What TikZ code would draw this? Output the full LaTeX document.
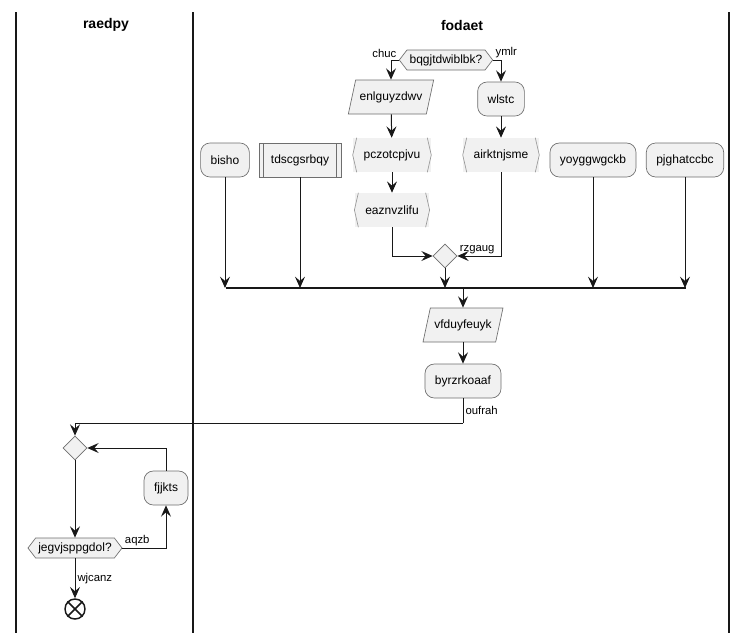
\documentclass[tikz,border=0pt]{standalone}
\usepackage{fontspec}
\setmainfont{Liberation Sans}
\usetikzlibrary{arrows.meta,shapes.geometric,shapes.symbols}

\definecolor{boxfill}{HTML}{F1F1F1}
\definecolor{boxline}{HTML}{6E6E6E}
\definecolor{arrowline}{HTML}{181818}

% brackets on both sides of a queue node
\newcommand{\sdlbrk}[1]{%
  \draw[brk] ([xshift=3pt]#1.north west) -- (#1.west) -- ([xshift=3pt]#1.south west);
  \draw[brk] ([xshift=-3pt]#1.north east) -- (#1.east) -- ([xshift=-3pt]#1.south east);}

\begin{document}
\begin{tikzpicture}[x=0.75pt,y=0.75pt,yscale=-1,xscale=1,
  font=\fontsize{9}{11}\selectfont,
  act/.style={draw=boxline, line width=0.5pt, fill=boxfill, rounded corners=7pt, minimum height=25.5pt, inner xsep=7.5pt},
  sub/.style={draw=boxline, line width=0.5pt, fill=boxfill, minimum height=25.5pt, inner xsep=9pt,
    path picture={\draw[boxline,line width=0.5pt] ([xshift=3.5pt]path picture bounding box.north west) -- ([xshift=3.5pt]path picture bounding box.south west);
      \draw[boxline,line width=0.5pt] ([xshift=-3.5pt]path picture bounding box.north east) -- ([xshift=-3.5pt]path picture bounding box.south east);}},
  io/.style={trapezium, trapezium left angle=70, trapezium right angle=110, trapezium stretches body, draw=boxline, line width=0.5pt, fill=boxfill, minimum height=25.5pt, inner xsep=3pt},
  queue/.style={fill=boxfill, minimum height=25.5pt, inner xsep=8pt},
  brk/.style={draw=boxline!70, line width=0.5pt},
  dec/.style={signal, signal to=west and east, signal pointer angle=105, draw=boxline, line width=0.5pt, fill=boxfill, minimum height=15pt, inner ysep=2pt, inner xsep=2pt},
  merge/.style={diamond, draw=boxline, line width=0.5pt, fill=boxfill, minimum size=18pt, inner sep=0pt},
  stopnode/.style={circle, draw=arrowline, line width=1.1pt, fill=white, minimum size=15pt, inner sep=0pt},
  flow/.style={draw=arrowline, line width=0.75pt, -{Stealth[length=8.5pt,width=7.5pt,inset=3.2pt]}},
  lbl/.style={font=\fontsize{8.5}{10}\selectfont, inner sep=1.5pt},
  hdr/.style={font=\fontsize{10.5}{13}\selectfont\bfseries}]

\useasboundingbox (0,0) rectangle (747,633);

% Lanes
\draw[line width=1pt, arrowline] (16,12) -- (16,633);
\draw[line width=1pt, arrowline] (193,12) -- (193,633);
\draw[line width=1pt, arrowline] (729,12) -- (729,633);
\node[hdr] (hdrA) at (106,25) {raedpy};
\node[hdr] (hdrB) at (462,25) {fodaet};

% Nodes
\node[dec] (q1) at (446,60) {bqgjtdwiblbk?};
\node[io] (enl) at (391,97) {enlguyzdwv};
\node[act] (wls) at (501,99) {wlstc};
\node[queue] (pcz) at (392,155) {pczotcpjvu};
\node[queue] (air) at (501,155) {airktnjsme};
\node[queue] (eaz) at (392,210) {eaznvzlifu};
\sdlbrk{pcz}
\sdlbrk{air}
\sdlbrk{eaz}
\node[merge] (m1) at (445,256) {};
\node[act] (bis) at (225,160) {bisho};
\node[sub] (tds) at (300,160) {tdscgsrbqy};
\node[act] (yoy) at (593,160) {yoyggwgckb};
\node[act] (pjg) at (685,160) {pjghatccbc};
\coordinate (barL) at (226,288);
\coordinate (barR) at (686,288);
\node[io] (vfd) at (463,325) {vfduyfeuyk};
\node[act] (byr) at (463,381) {byrzrkoaaf};
\coordinate (turn) at (463,423);
\node[merge] (m2) at (75,448) {};
\node[act] (fjj) at (166,488) {fjjkts};
\node[dec] (q2) at (75,548) {jegvjsppgdol?};
\node[stopnode] (stop) at (75,609) {};
\draw[line width=1.1pt, arrowline] (stop.north west) -- (stop.south east);
\draw[line width=1.1pt, arrowline] (stop.north east) -- (stop.south west);

% Connectors
\draw[flow] (q1.west) -| (enl.north) node[pos=0, lbl, above left] {chuc};
\draw[flow] (q1.east) -| (wls.north) node[pos=0, lbl, above right] {ymlr};
\draw[flow] (enl) -- (pcz);
\draw[flow] (pcz) -- (eaz);
\draw[flow] (wls) -- (air);
\draw[flow] (eaz.south) |- (m1.west);
\draw[flow] (air.south) |- (m1.east) node[pos=1, lbl, above right] {rzgaug};
\draw[line width=1.5pt, arrowline] (barL) -- (barR);
\draw[flow] (m1.south) -- (m1.south |- barL);
\draw[flow] (bis.south) -- (bis.south |- barL);
\draw[flow] (tds.south) -- (tds.south |- barL);
\draw[flow] (yoy.south) -- (yoy.south |- barL);
\draw[flow] (pjg.south) -- (pjg.south |- barL);
\draw[flow] (vfd.north |- barL) -- (vfd.north);
\draw[flow] (vfd) -- (byr);
\draw[draw=arrowline, line width=0.75pt] (byr.south) -- (turn) node[midway, lbl, right] {oufrah};
\draw[flow] (turn) -| (m2.north);
\draw[flow] (m2.south) -- (q2.north);
\draw[flow] (q2.east) -| (fjj.south) node[pos=0, lbl, above right] {aqzb};
\draw[flow] (fjj.north) |- (m2.east);
\draw[flow] (q2.south) -- (stop.north) node[midway, lbl, right] {wjcanz};

\end{tikzpicture}
\end{document}
